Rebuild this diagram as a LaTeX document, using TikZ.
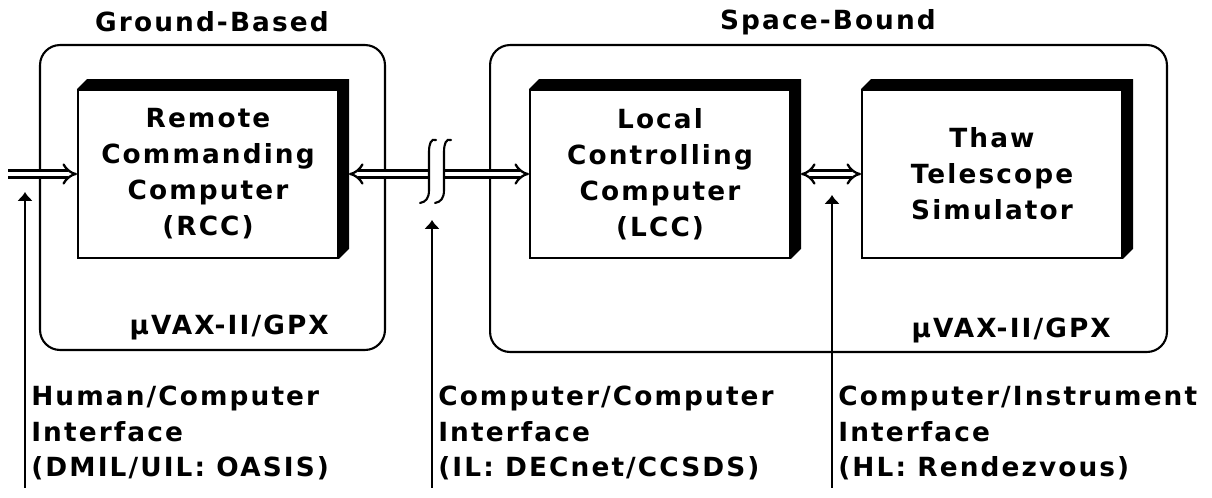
\documentclass[tikz,border=0pt]{standalone}
\usepackage{fontspec}
\setmainfont{DejaVu Sans}[LetterSpace=8]
\usetikzlibrary{arrows.meta}

\begin{document}
\begin{tikzpicture}[x=0.02cm,y=-0.02cm,
  font=\fontsize{15}{20}\selectfont\bfseries,
  site/.style={draw,line width=1.2pt,rounded corners=0.4cm,inner sep=0pt},
  unit/.style={draw,fill=white,line width=1.2pt,minimum width=5.2cm,minimum height=3.35cm,align=center,inner sep=0pt,
    font=\fontsize{15}{20.5}\selectfont\bfseries},
  pipe/.style={double,double distance=2.8pt,line width=1.3pt},
  iface/.style={anchor=north west,align=left,inner xsep=0.12cm,inner ysep=0pt},
  ptr/.style={line width=1pt,-{Latex[length=5pt,width=9pt]}},
  brk/.style={line width=1.2pt,line cap=round}]
  \useasboundingbox (0,0) rectangle (1212,497);
  % sites
  \node[site,minimum width=6.9cm,minimum height=6.1cm] (ground) at (212.5,197.5) {};
  \node[site,minimum width=13.54cm,minimum height=6.14cm] (space) at (828.5,198.5) {};
  \node (gtitle) at (212,22) {Ground-Based};
  \node (stitle) at (828,22) {Space-Bound};
  \node[anchor=east] (gvax) at (335,327) {µVAX-II/GPX};
  \node[anchor=east] (svax) at (1117,330) {µVAX-II/GPX};
  % computers
  \node[unit] (rcc) at (208,174) {Remote\\Commanding\\Computer\\(RCC)};
  \node[unit] (lcc) at (660,174) {Local\\Controlling\\Computer\\(LCC)};
  \node[unit] (tts) at (992,174) {Thaw\\Telescope\\Simulator};
  \foreach \n in {rcc,lcc,tts}
    \fill (\n.north west) -- ++(10,-10) -- ([shift={(10,-10)}]\n.north east)
      -- ([shift={(10,-10)}]\n.south east) -- (\n.south east) -- (\n.north east) -- cycle;
  % links
  \coordinate (user) at (8,174);
  \coordinate (brk1) at (428,174);
  \coordinate (brk2) at (444,174);
  \draw[pipe,-{Implies}] (user) -- (rcc.west);
  \draw[pipe,{Implies}-] ([xshift=0.2cm]rcc.east) -- (brk1);
  \draw[pipe,-{Implies}] (brk2) -- (lcc.west);
  \draw[pipe,{Implies}-{Implies}] ([xshift=0.2cm]lcc.east) -- (tts.west);
  \draw[brk] (436,140) .. controls (431,138) and (429,144) .. (429,152) -- (429,190) .. controls (429,198) and (426,202) .. (420,203);
  \draw[brk] (451,140) .. controls (446,138) and (444,144) .. (444,152) -- (444,190) .. controls (444,198) and (441,202) .. (435,203);
  % interfaces
  \node[iface] (hci) at (25,386) {Human/Computer\\Interface\\(DMIL/UIL: OASIS)};
  \node[iface] (cci) at (432,386) {Computer/Computer\\Interface\\(IL: DECnet/CCSDS)};
  \node[iface] (cii) at (832,386) {Computer/Instrument\\Interface\\(HL: Rendezvous)};
  \coordinate (hcitip) at (25,192);
  \coordinate (ccitip) at (432,220);
  \coordinate (ciitip) at (832,195);
  \draw[ptr] ([yshift=-0.15cm]hci.south west) -- (hcitip);
  \draw[ptr] ([yshift=-0.15cm]cci.south west) -- (ccitip);
  \draw[ptr] ([yshift=-0.15cm]cii.south west) -- (ciitip);
\end{tikzpicture}
\end{document}
